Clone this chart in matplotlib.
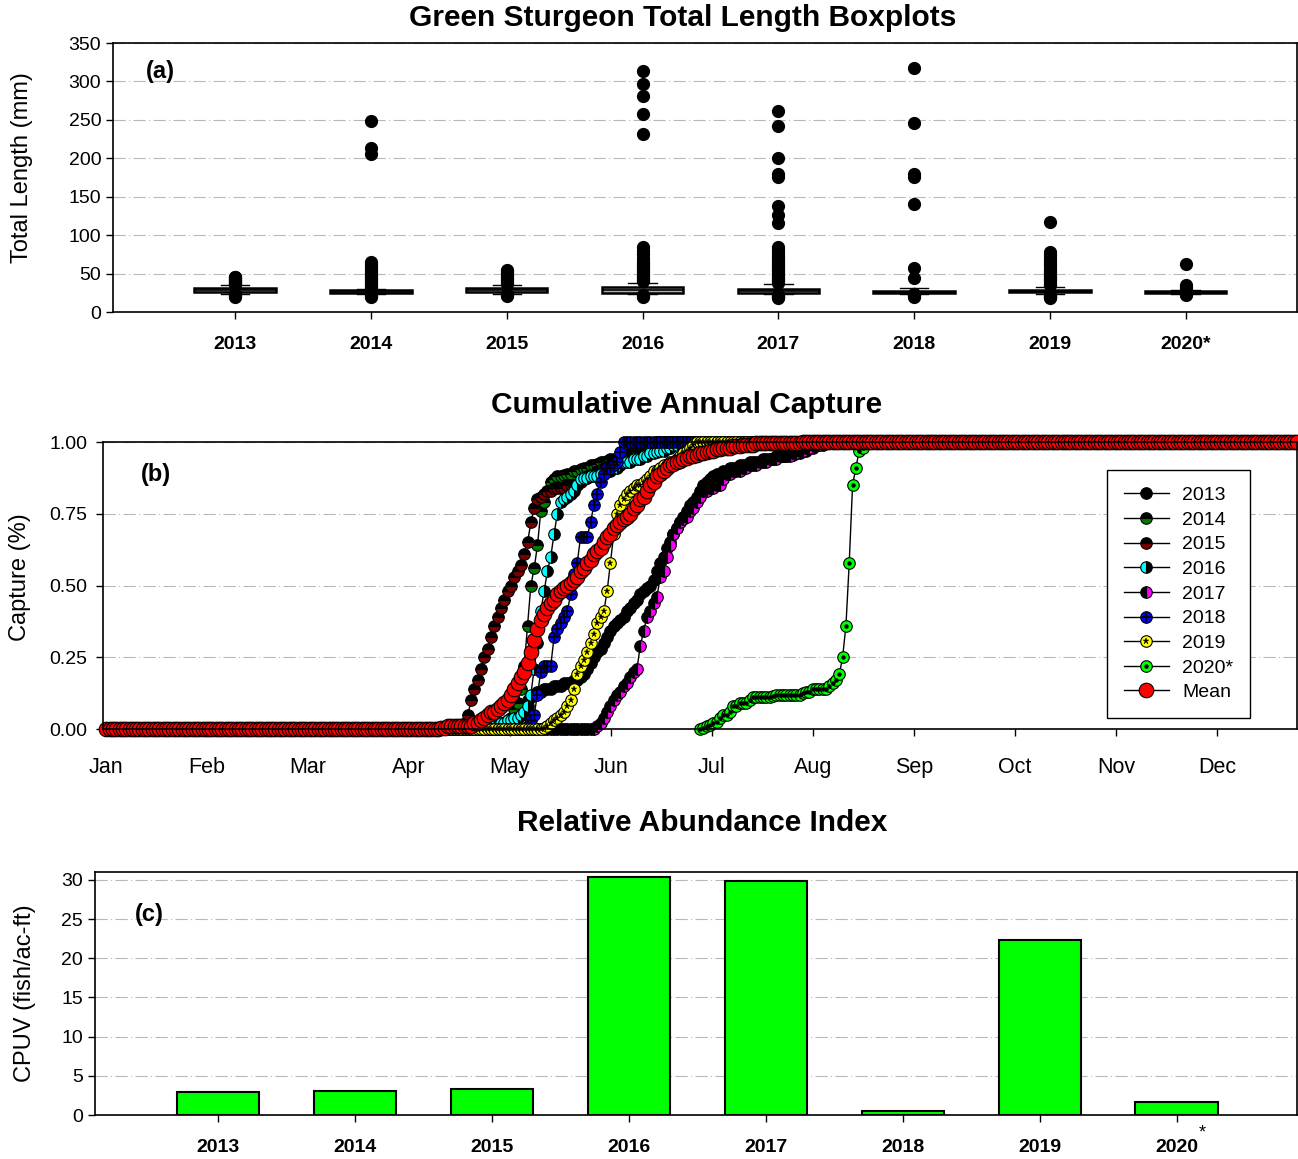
import matplotlib
matplotlib.use('Agg')
import matplotlib.pyplot as plt
import numpy as np
from matplotlib.legend_handler import HandlerTuple

plt.rcParams['font.family'] = ['Liberation Sans', 'DejaVu Sans']

years = ['2013', '2014', '2015', '2016', '2017', '2018', '2019', '2020*']

# ---- (a) total length boxplots (mm)
box_q1 = [26, 25, 26, 25, 25, 25, 26, 25]
box_med = [28, 26, 28, 28, 27, 26, 27, 26]
box_q3 = [31, 28, 31, 32, 30, 27, 29, 27]
box_lo = [24, 23, 24, 23, 23, 23, 24, 24]
box_hi = [35, 30, 35, 38, 36, 31, 33, 28]
fliers = [
    [20, 21, 22, 23, 36, 37, 38, 39, 40, 41, 42, 43, 44, 45, 46],
    [20, 21, 22, 31, 33, 35, 37, 39, 41, 43, 45, 47, 49, 51, 53, 55, 57, 60, 63, 65, 206, 213, 248],
    [21, 22, 23, 37, 39, 41, 43, 45, 47, 49, 51, 53, 55],
    [20, 21, 22, 40, 42, 44, 46, 48, 50, 52, 54, 56, 58, 60, 62, 64, 66, 70, 75, 80, 85,
     232, 257, 281, 297, 313],
    [18, 19, 20, 21, 22, 38, 40, 42, 44, 46, 48, 50, 52, 54, 56, 58, 60, 62, 64, 66, 68, 70,
     73, 76, 79, 82, 85, 116, 126, 138, 176, 180, 200, 242, 262],
    [20, 21, 22, 23, 24, 44, 57, 141, 176, 180, 246, 318],
    [18, 19, 20, 21, 22, 35, 37, 39, 41, 43, 45, 47, 49, 51, 53, 55, 58, 61, 64, 67, 70, 74, 78, 117],
    [22, 23, 24, 30, 33, 35, 62],
]

# ---- (b) cumulative capture, daily values during the rise (0 before start, 1 after)
start_2013 = 119
cap_2013 = [0.01, 0.01, 0.02, 0.03, 0.04, 0.05, 0.06, 0.07, 0.08, 0.10, 0.11, 0.12, 0.13, 0.13,
            0.14, 0.14, 0.14, 0.15, 0.15, 0.15, 0.16, 0.16, 0.16, 0.17, 0.17, 0.18, 0.19, 0.21,
            0.23, 0.25, 0.27, 0.28, 0.30, 0.32, 0.34, 0.36, 0.37, 0.38, 0.39, 0.41, 0.42, 0.44,
            0.45, 0.47, 0.48, 0.49, 0.50, 0.52, 0.55, 0.58, 0.60, 0.63, 0.65, 0.68, 0.70, 0.72,
            0.74, 0.76, 0.78, 0.79, 0.81, 0.83, 0.85, 0.86, 0.87, 0.88, 0.89, 0.89, 0.90, 0.90,
            0.91, 0.91, 0.91, 0.92, 0.92, 0.92, 0.93, 0.93, 0.93, 0.93, 0.94, 0.94, 0.94, 0.94,
            0.95, 0.95, 0.95, 0.95, 0.955, 0.955, 0.96, 0.96, 0.97, 0.97, 0.98, 0.98, 0.99, 0.99,
            0.99]
start_2014 = 122
cap_2014 = [0.01, 0.04, 0.07, 0.09, 0.14, 0.22, 0.36, 0.50, 0.56, 0.64, 0.76, 0.79, 0.83, 0.86,
            0.87, 0.88, 0.88, 0.885, 0.89, 0.89, 0.90, 0.90, 0.905, 0.91, 0.91, 0.92, 0.92, 0.925,
            0.93, 0.93, 0.935, 0.94, 0.94, 0.94, 0.945, 0.95, 0.95, 0.96, 0.96, 0.97, 0.97, 0.98,
            0.98, 0.99, 0.99]
start_2015 = 107
cap_2015 = [0.01, 0.01, 0.02, 0.05, 0.10, 0.14, 0.17, 0.21, 0.25, 0.28, 0.32, 0.36, 0.39, 0.42,
            0.45, 0.48, 0.50, 0.53, 0.55, 0.57, 0.61, 0.65, 0.72, 0.77, 0.80, 0.81, 0.82, 0.83,
            0.83, 0.84, 0.84, 0.84, 0.84, 0.85, 0.85, 0.85, 0.85, 0.86, 0.87, 0.88, 0.88, 0.89,
            0.90, 0.90, 0.91, 0.91, 0.92, 0.92, 0.93, 0.93, 0.93, 0.94, 0.94, 0.94, 0.95, 0.95,
            0.96, 0.96, 0.97, 0.97, 0.98, 0.98, 0.98, 0.99, 0.99, 0.99]
start_2016 = 118
cap_2016 = [0.01, 0.01, 0.02, 0.02, 0.03, 0.03, 0.04, 0.04, 0.05, 0.06, 0.08, 0.12, 0.21, 0.30,
            0.41, 0.48, 0.55, 0.60, 0.68, 0.75, 0.79, 0.80, 0.81, 0.82, 0.83, 0.85, 0.87, 0.875,
            0.875, 0.88, 0.88, 0.88, 0.89, 0.89, 0.90, 0.90, 0.91, 0.91, 0.92, 0.93, 0.93, 0.93,
            0.94, 0.94, 0.94, 0.95, 0.95, 0.96, 0.96, 0.965, 0.97, 0.97, 0.98, 0.98, 0.99, 0.99]
start_2017 = 149
cap_2017 = [0.01, 0.02, 0.04, 0.06, 0.08, 0.10, 0.12, 0.13, 0.15, 0.16, 0.18, 0.20, 0.21, 0.29,
            0.34, 0.39, 0.41, 0.44, 0.46, 0.53, 0.55, 0.60, 0.64, 0.68, 0.70, 0.72, 0.73, 0.74,
            0.76, 0.77, 0.79, 0.81, 0.83, 0.83, 0.84, 0.84, 0.85, 0.85, 0.87, 0.89, 0.89, 0.90,
            0.90, 0.90, 0.91, 0.91, 0.92, 0.92, 0.92, 0.93, 0.93, 0.93, 0.94, 0.94, 0.94, 0.95,
            0.95, 0.95, 0.95, 0.96, 0.96, 0.97, 0.97, 0.98, 0.98, 0.99, 0.99, 0.99]
start_2018 = 128
cap_2018 = [0.01, 0.03, 0.05, 0.12, 0.20, 0.22, 0.22, 0.22, 0.32, 0.35, 0.37, 0.39, 0.41, 0.47,
            0.54, 0.58, 0.67, 0.67, 0.67, 0.72, 0.78, 0.82, 0.86, 0.89, 0.91, 0.91, 0.92, 0.93,
            0.965]
start_2019 = 133
cap_2019 = [0.005, 0.01, 0.02, 0.03, 0.04, 0.05, 0.06, 0.08, 0.10, 0.14, 0.19, 0.22, 0.24, 0.27,
            0.30, 0.33, 0.37, 0.39, 0.41, 0.48, 0.58, 0.68, 0.75, 0.78, 0.80, 0.82, 0.83, 0.84,
            0.85, 0.85, 0.86, 0.87, 0.88, 0.90, 0.90, 0.91, 0.92, 0.92, 0.93, 0.93, 0.94, 0.95,
            0.96, 0.97, 0.98, 0.99]
start_2020 = 180
cap_2020 = [0.00, 0.005, 0.01, 0.015, 0.02, 0.025, 0.04, 0.05, 0.05, 0.06, 0.08, 0.08, 0.09,
            0.09, 0.09, 0.10, 0.11, 0.11, 0.11, 0.11, 0.11, 0.11, 0.115, 0.12, 0.12, 0.12, 0.12,
            0.12, 0.12, 0.12, 0.12, 0.125, 0.13, 0.13, 0.14, 0.14, 0.14, 0.14, 0.14, 0.15, 0.16,
            0.17, 0.19, 0.25, 0.36, 0.58, 0.85, 0.91, 0.97, 0.98, 1.0, 1.0]
start_mean = 100
cap_mean = [0.00, 0.00, 0.005, 0.005, 0.01, 0.01, 0.01, 0.01, 0.01, 0.01, 0.01, 0.01, 0.02, 0.02,
            0.03, 0.04, 0.05, 0.06, 0.06, 0.07, 0.08, 0.09, 0.10, 0.12, 0.14, 0.16, 0.18, 0.20,
            0.23, 0.27, 0.31, 0.35, 0.38, 0.40, 0.42, 0.44, 0.45, 0.47, 0.48, 0.49, 0.50, 0.51,
            0.52, 0.53, 0.55, 0.56, 0.58, 0.59, 0.61, 0.62, 0.63, 0.65, 0.67, 0.68, 0.70, 0.71,
            0.72, 0.73, 0.74, 0.75, 0.77, 0.78, 0.80, 0.81, 0.83, 0.85, 0.86, 0.88, 0.89, 0.90,
            0.91, 0.92, 0.925, 0.93, 0.935, 0.94, 0.945, 0.95, 0.95, 0.955, 0.96, 0.96, 0.965,
            0.97, 0.97, 0.975, 0.975, 0.98, 0.98, 0.98, 0.985, 0.985, 0.985, 0.99, 0.99, 0.99,
            0.99, 0.995, 0.995, 0.995, 0.995, 0.995, 0.995, 0.995, 0.995, 0.997, 0.997, 0.997,
            0.998, 0.998, 0.998, 0.999, 0.999, 0.999]
months = ['Jan', 'Feb', 'Mar', 'Apr', 'May', 'Jun', 'Jul', 'Aug', 'Sep', 'Oct', 'Nov', 'Dec']

# ---- (c) relative abundance
cpuv = [2.9, 3.1, 3.3, 30.3, 29.8, 0.45, 22.3, 1.65]
cpuv_labels = ['2013', '2014', '2015', '2016', '2017', '2018', '2019', '2020']


def full_series(start, vals, first=1, last=360):
    # zeros before the first capture, ones once the season is complete
    n_after = last - (start + len(vals) - 1)
    y = np.concatenate([np.zeros(start - first), vals, np.ones(max(n_after, 0))])
    x = np.arange(first, first + len(y))
    return x, y


grid_kw = dict(color='#b8b8b8', linestyle=(0, (11, 3, 1, 3)), linewidth=0.8)

fig = plt.figure(figsize=(12.98, 11.59), dpi=100)
W, H = 1298.0, 1159.0


def px_axes(l, t, r, b):
    return fig.add_axes([l / W, 1 - b / H, (r - l) / W, (b - t) / H])


def style(ax):
    for s in ax.spines.values():
        s.set_linewidth(1.2)
    ax.tick_params(direction='out', length=5, width=1, labelsize=14)
    ax.set_axisbelow(True)


# ================= (a)
ax1 = px_axes(113, 43, 1297, 312)
style(ax1)
stats = []
for i in range(len(years)):
    stats.append(dict(med=box_med[i], q1=box_q1[i], q3=box_q3[i], whislo=box_lo[i],
                      whishi=box_hi[i], fliers=fliers[i]))
pos = np.arange(1, len(years) + 1)
ax1.bxp(stats, positions=pos, widths=0.6, patch_artist=True, capwidths=0.21,
        boxprops=dict(facecolor='#b0b0b0', edgecolor='black', linewidth=1.8),
        medianprops=dict(color='black', linewidth=1.2),
        whiskerprops=dict(color='black', linewidth=1),
        capprops=dict(color='black', linewidth=1),
        flierprops=dict(marker='o', markerfacecolor='black', markeredgecolor='black',
                        markersize=8.5))
ax1.set_xlim(0.1, 8.82)
ax1.set_ylim(0, 350)
ax1.set_yticks(np.arange(0, 351, 50))
ax1.set_xticks(pos)
ax1.set_xticklabels(years, fontweight='bold')
ax1.tick_params(axis='x', pad=12)
ax1.yaxis.grid(True, **grid_kw)
ax1.text(0.028, 0.869, '(a)', transform=ax1.transAxes, fontsize=17, fontweight='bold')

# ================= (b)
ax2 = px_axes(103, 442, 1297, 729)
style(ax2)
mk = 8.3
# the second (alt) half of split markers is drawn over all first halves,
# so the half that should dominate overlaps goes in mfcalt
series = [
    ('2013', start_2013, cap_2013, dict(marker='o', mfc='black')),
    ('2014', start_2014, cap_2014, dict(marker='o', fillstyle='top', mfc='black', mfcalt='#007a00')),
    ('2015', start_2015, cap_2015, dict(marker='o', fillstyle='top', mfc='black', mfcalt='#7a0000')),
    ('2016', start_2016, cap_2016, dict(marker='o', fillstyle='right', mfc='black', mfcalt='#00ffff')),
    ('2017', start_2017, cap_2017, dict(marker='o', fillstyle='right', mfc='#ff00ff', mfcalt='black')),
    ('2018', start_2018, cap_2018, dict(marker='o', mfc='#0000ff')),
    ('2019', start_2019, cap_2019, dict(marker='o', mfc='#ffff00')),
]
handles = []
labels = []
for name, st, vals, kw in series:
    x, y = full_series(st, vals)
    ln, = ax2.plot(x, y, color='black', lw=1, ms=mk, mec='black', mew=0.8, clip_on=False, **kw)
    h = ln
    if name == '2018':
        ov, = ax2.plot(x, y, ls='none', marker='+', ms=mk * 0.9, mec='black', mew=1.2, clip_on=False)
        h = (ln, ov)
    if name == '2019':
        ov, = ax2.plot(x, y, ls='none', marker='*', ms=4.5, mfc='black', mec='black', mew=0.3, clip_on=False)
        h = (ln, ov)
    handles.append(h)
    labels.append(name)

x20 = np.arange(start_2020, start_2020 + len(cap_2020))
ln20, = ax2.plot(x20, cap_2020, color='black', lw=1, marker='o', ms=mk, mfc='#00ff00',
                 mec='black', mew=0.8, clip_on=False)
ov20, = ax2.plot(x20, cap_2020, ls='none', marker='o', ms=2.2, mfc='black', mec='black', clip_on=False)
handles.append((ln20, ov20))
labels.append('2020*')

xm, ym = full_series(start_mean, cap_mean)
lnm, = ax2.plot(xm, ym, color='black', lw=1, marker='o', ms=10.5, mfc='#ff0000', mec='black',
                mew=0.8, clip_on=False)
handles.append(lnm)
labels.append('Mean')

ax2.set_xlim(0, 360)
ax2.set_ylim(0, 1)
ax2.set_yticks([0, 0.25, 0.5, 0.75, 1.0])
ax2.set_yticklabels(['0.00', '0.25', '0.50', '0.75', '1.00'])
ax2.set_xticks(0.9 + 30.45 * np.arange(12))
ax2.set_xticklabels(months)
ax2.tick_params(axis='x', pad=15, labelsize=15.5)
ax2.tick_params(axis='y', pad=6)
ax2.yaxis.grid(True, **grid_kw)
ax2.text(0.032, 0.865, '(b)', transform=ax2.transAxes, fontsize=17, fontweight='bold')
leg = ax2.legend(handles, labels, loc='upper right', bbox_to_anchor=(0.9606, 0.902), fontsize=14,
                 handler_map={tuple: HandlerTuple(ndivide=1)}, frameon=True, fancybox=False,
                 framealpha=1, edgecolor='black', handlelength=2.3, handletextpad=0.7,
                 labelspacing=0.36, borderpad=0.85, borderaxespad=0)
leg.get_frame().set_linewidth(1)
leg.set_zorder(10)

# ================= (c)
ax3 = px_axes(95, 872, 1297, 1115)
style(ax3)
ax3.bar(pos, cpuv, width=0.6, color='#00ff00', edgecolor='black', linewidth=1.5)
ax3.set_xlim(0.1, 8.88)
ax3.set_ylim(0, 31)
ax3.set_yticks(np.arange(0, 31, 5))
ax3.set_xticks(pos)
ax3.set_xticklabels(cpuv_labels, fontweight='bold')
ax3.tick_params(axis='x', pad=12)
ax3.yaxis.grid(True, **grid_kw)
ax3.text(0.033, 0.8, '(c)', transform=ax3.transAxes, fontsize=17, fontweight='bold')
fig.text(1202 / W, 1 - 1133 / H, '*', ha='center', va='center', fontsize=13)

# titles and axis labels
fig.text(683 / W, 1 - 18 / H, 'Green Sturgeon Total Length Boxplots', ha='center', va='center',
         fontsize=21.5, fontweight='bold')
fig.text(687 / W, 1 - 405 / H, 'Cumulative Annual Capture', ha='center', va='center',
         fontsize=21.5, fontweight='bold')
fig.text(702 / W, 1 - 823 / H, 'Relative Abundance Index', ha='center', va='center',
         fontsize=21.5, fontweight='bold')
fig.text(22 / W, 1 - 168 / H, 'Total Length (mm)', rotation=90, ha='center', va='center', fontsize=17)
fig.text(20 / W, 1 - 577 / H, 'Capture (%)', rotation=90, ha='center', va='center', fontsize=17)
fig.text(25 / W, 1 - 993 / H, 'CPUV (fish/ac-ft)', rotation=90, ha='center', va='center', fontsize=17)

fig.savefig('out.png', dpi=100)
